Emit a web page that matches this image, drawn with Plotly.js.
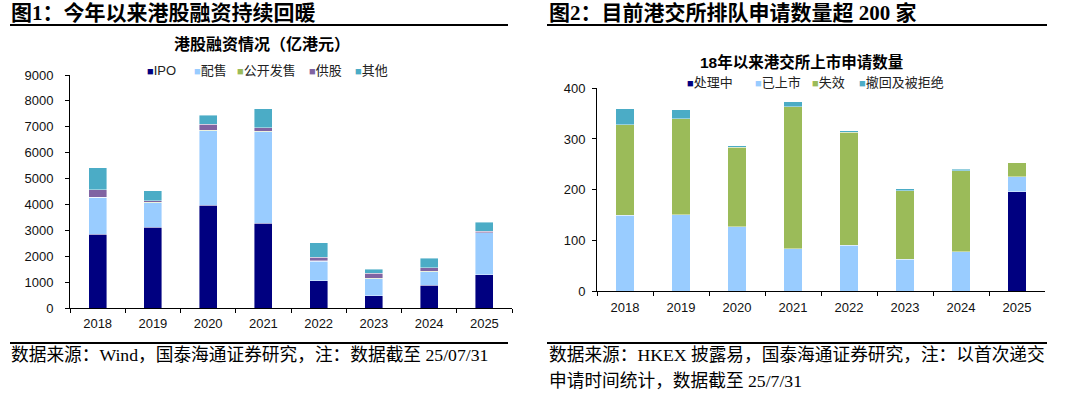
<!DOCTYPE html>
<html>
<head>
<meta charset="utf-8">
<script src="https://cdn.plot.ly/plotly-3.0.1.min.js"></script>
<style>html,body{margin:0;padding:0;background:#fff;}#chart{width:1080px;height:396px;}</style>
</head>
<body>
<div id="chart"></div>
<script>
// ---------- Data: chart 1 (港股融资情况, 亿港元) ----------
const years1 = ["2018","2019","2020","2021","2022","2023","2024","2025"];
const seriesNames1 = ["IPO","配售","公开发售","供股","其他"];
const ipo      = [2850, 3110, 3960, 3280, 1060, 480, 880, 1280];
const placing  = [1420,  960, 2890, 3530,  750, 650, 530, 1620];
const publicOffer = [10,  10,   10,   10,   10,  15,  10,   10];
const rights   = [ 290,   70,  240,  140,  150, 200, 140,   50];
const others   = [ 850,  370,  340,  730,  550, 160, 370,  360];
const yTicks1  = [0,1000,2000,3000,4000,5000,6000,7000,8000,9000];

// ---------- Data: chart 2 (18年以来港交所上市申请数量) ----------
const years2 = ["2018","2019","2020","2021","2022","2023","2024","2025"];
const seriesNames2 = ["处理中","已上市","失效","撤回及被拒绝"];
const processing = [  0,   0,   0,   0,   0,   0,   0, 196];
const listed     = [149, 150, 127,  83,  90,  63,  77,  29];
const lapsed     = [179, 190, 157, 281, 223, 135, 160,  28];
const withdrawn  = [ 32,  18,   3,   9,   3,   4,   3,   0];
const yTicks2    = [0,100,200,300,400];

// ---------- Styles ----------
const colors1 = ["#000080","#99CCFF","#9BBB59","#8064A2","#4BACC6"];
const colors2 = ["#000080","#99CCFF","#9BBB59","#4BACC6"];
const W = 1080, H = 396;
const px = x => x / W;
const py = y => 1 - y / H;
const CJK = "Noto Sans CJK SC";
const SERIF = "Liberation Serif, " + CJK;
const SANS = "Liberation Sans, Arial, " + CJK;

const vals1 = [ipo, placing, publicOffer, rights, others];
const vals2 = [processing, listed, lapsed, withdrawn];

const traces = [];
vals1.forEach((v, i) => traces.push({
  type: "bar", x: years1, y: v, name: seriesNames1[i],
  marker: {color: colors1[i], line: {color: "rgba(255,255,255,0.7)", width: 0.6}},
  xaxis: "x", yaxis: "y", showlegend: false, hoverinfo: "x+y+name"
}));
vals2.forEach((v, i) => traces.push({
  type: "bar", x: years2, y: v, name: seriesNames2[i],
  marker: {color: colors2[i], line: {color: "rgba(255,255,255,0.7)", width: 0.6}},
  xaxis: "x2", yaxis: "y2", showlegend: false, hoverinfo: "x+y+name"
}));

const axisCommon = {
  showline: true, linecolor: "#000", linewidth: 1,
  ticks: "outside", ticklen: 4, tickcolor: "#000", tickwidth: 1,
  showgrid: false, zeroline: false, fixedrange: true,
  tickfont: {family: SANS, size: 13, color: "#111"}
};

const annotations = [];
function ann(text, x, y, opts) {
  annotations.push(Object.assign({
    text: text, xref: "paper", yref: "paper", x: px(x), y: py(y),
    xanchor: "left", yanchor: "middle", showarrow: false,
    font: {family: CJK, size: 13, color: "#000"}
  }, opts || {}));
}

// headers
ann("<b>图1：今年以来港股融资持续回暖</b>", 9, 12.5, {font: {family: SERIF, size: 21, color: "#000"}});
ann("<b>图2：目前港交所排队申请数量超 200 家</b>", 547, 12.5, {font: {family: SERIF, size: 21, color: "#000"}});
// chart titles
ann("<b>港股融资情况（亿港元）</b>", 262, 43, {xanchor: "center", font: {family: CJK, size: 16, color: "#000"}});
ann("<b>18年以来港交所上市申请数量</b>", 801, 62, {xanchor: "center", font: {family: SANS, size: 15.5, color: "#000"}});
// legends
const legX1 = [145, 192, 235, 307, 353];
const legX2 = [685, 753, 810, 857];
seriesNames1.forEach((n, i) => ann(
  '<span style="font-family:Liberation Sans;font-size:11px;color:' + colors1[i] + '">■</span>' + n,
  legX1[i], 70, {font: {family: SANS, size: 13, color: "#222"}}));
seriesNames2.forEach((n, i) => ann(
  '<span style="font-family:Liberation Sans;font-size:11px;color:' + colors2[i] + '">■</span>' + n,
  legX2[i], 82, {font: {family: SANS, size: 13, color: "#222"}}));
// sources
ann("数据来源：Wind，国泰海通证券研究，注：数据截至 25/07/31", 9, 355, {font: {family: SERIF, size: 17.7, color: "#000"}});
ann("数据来源：HKEX 披露易，国泰海通证券研究，注：以首次递交", 547, 355, {font: {family: SERIF, size: 17.7, color: "#000"}});
ann("申请时间统计，数据截至 25/7/31", 547, 381, {font: {family: SERIF, size: 17.7, color: "#000"}});

const shapes = [
  {type: "line", xref: "paper", yref: "paper", x0: px(10), x1: px(508), y0: py(25), y1: py(25), line: {color: "#000", width: 2}},
  {type: "line", xref: "paper", yref: "paper", x0: px(547), x1: px(1047), y0: py(25), y1: py(25), line: {color: "#000", width: 2}},
  {type: "line", xref: "paper", yref: "paper", x0: px(10), x1: px(508), y0: py(343), y1: py(343), line: {color: "#000", width: 2}},
  {type: "line", xref: "paper", yref: "paper", x0: px(547), x1: px(1047), y0: py(343), y1: py(343), line: {color: "#000", width: 2}}
];

const layout = {
  width: W, height: H,
  margin: {l: 0, r: 0, t: 0, b: 0, pad: 0},
  paper_bgcolor: "#fff", plot_bgcolor: "#fff",
  barmode: "stack", bargap: 0.67,
  showlegend: false,
  xaxis: Object.assign({}, axisCommon, {domain: [px(70), px(512)], anchor: "y", type: "category", tickson: "boundaries", ticklabelstandoff: 3}),
  yaxis: Object.assign({}, axisCommon, {domain: [py(308), py(75)], anchor: "x", range: [0, 9000], tickvals: yTicks1, ticktext: yTicks1.map(String), ticklabelstandoff: 9}),
  xaxis2: Object.assign({}, axisCommon, {domain: [px(597), px(1045)], anchor: "y2", type: "category", tickson: "boundaries", ticklabelstandoff: 4}),
  yaxis2: Object.assign({}, axisCommon, {domain: [py(291), py(88.3)], anchor: "x2", range: [0, 400], tickvals: yTicks2, ticktext: yTicks2.map(String), ticklabelstandoff: 4}),
  annotations: annotations,
  shapes: shapes
};

Plotly.newPlot("chart", traces, layout, {displayModeBar: false, staticPlot: true});
</script>
</body>
</html>
